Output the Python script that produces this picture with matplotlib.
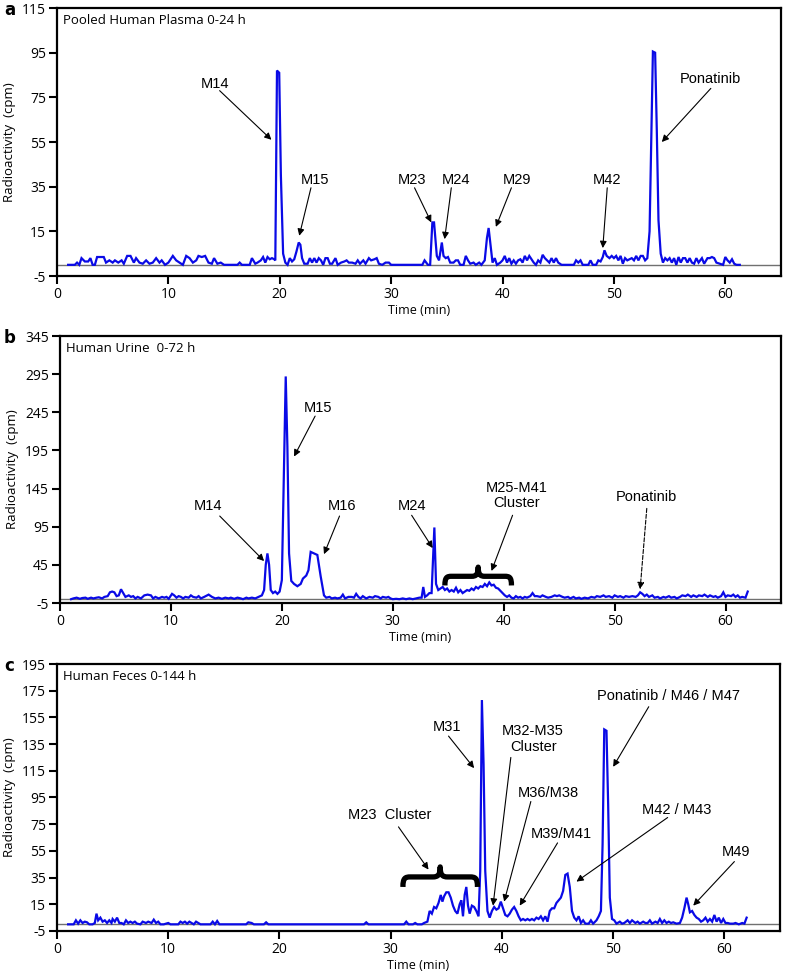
import matplotlib
matplotlib.use("Agg")
import matplotlib.pyplot as plt
from matplotlib.path import Path
from matplotlib.patches import PathPatch

# ---------------- data ----------------
time_a = [1.0, 1.6, 1.8, 2.0, 2.2, 2.5, 2.8, 3.0, 3.2, 3.4, 3.6, 3.9, 4.2, 4.4, 4.7, 5.0, 5.2, 5.5, 5.8,
          6.0, 6.3, 6.6, 6.9, 7.1, 7.4, 7.7, 8.0, 8.3, 8.6, 8.9, 9.2, 9.4, 9.7, 10.0, 10.4, 10.7, 11.0,
          11.3, 11.6, 11.9, 12.2, 12.5, 12.7, 13.0, 13.3, 13.6, 13.9, 14.1, 14.4, 14.7, 15.0, 16.2, 16.4,
          16.6, 17.3, 17.5, 17.8, 18.0, 18.3, 18.5, 18.7, 18.9, 19.1, 19.3, 19.5, 19.6, 19.75, 19.95,
          20.1, 20.3, 20.5, 20.7, 20.9, 21.1, 21.3, 21.5, 21.7, 21.85, 22.0, 22.2, 22.5, 22.7, 22.9, 23.1,
          23.3, 23.5, 23.7, 23.9, 24.1, 24.3, 24.5, 24.7, 25.0, 25.2, 25.5, 25.8, 26.0, 26.2, 26.5, 26.8,
          27.0, 27.2, 27.5, 27.7, 28.0, 28.2, 28.5, 28.7, 28.9, 29.2, 29.5, 29.8, 30.0, 32.8, 33.0, 33.3,
          33.5, 33.7, 33.85, 34.1, 34.3, 34.55, 34.7, 34.9, 35.1, 35.3, 35.6, 35.8, 36.0, 36.2, 36.5,
          36.7, 36.9, 37.1, 37.4, 37.6, 37.9, 38.1, 38.4, 38.6, 38.75, 38.9, 39.1, 39.3, 39.5, 39.8,
          40.0, 40.2, 40.4, 40.6, 40.8, 41.0, 41.2, 41.4, 41.6, 41.8, 42.0, 42.2, 42.4, 42.6, 42.8, 43.0,
          43.2, 43.4, 43.6, 43.8, 44.0, 44.2, 44.4, 44.6, 44.8, 45.0, 45.3, 46.4, 46.6, 46.8, 47.0, 47.2,
          47.7, 47.9, 48.1, 48.4, 48.6, 48.8, 49.0, 49.15, 49.35, 49.6, 49.8, 50.0, 50.2, 50.4, 50.6,
          50.8, 51.0, 51.2, 51.4, 51.6, 51.8, 52.0, 52.2, 52.4, 52.6, 52.8, 53.0, 53.2, 53.4, 53.5, 53.7,
          53.85, 54.0, 54.2, 54.4, 54.6, 54.8, 55.0, 55.2, 55.4, 55.6, 55.8, 56.0, 56.2, 56.4, 56.6, 56.8,
          57.0, 57.2, 57.4, 57.6, 57.9, 58.1, 58.4, 58.6, 58.8, 59.0, 59.2, 59.5, 59.8, 60.0, 60.2, 60.4,
          60.6, 60.8, 61.0, 61.3]
cpm_a = [0, 0, 1, 0, 3, 1.5, 1.5, 3, 0, 0, 3.5, 3.5, 3.5, 1, 2, 1, 2, 1, 2,
         0.5, 4, 4, 1, 3, 1, 0.5, 2, 0.5, 1, 3, 1, 2, 0, 1, 4, 2, 1,
         0, 4, 3, 1, 2, 4, 3.5, 4, 1, 0.5, 3, 0.5, 1, 0, 0, 1,
         0, 0, 3, 0.5, 1, 2, 3.5, 1, 3.5, 2.5, 3, 2.5, 2, 87, 86,
         40, 5, 1, 0, 3, 1.5, 2.5, 6, 10, 9, 3, 0.5, 0.5, 3, 1, 3,
         1, 3, 2, 0, 3, 3, 0.5, 0.5, 3, 0, 1, 1.5, 2, 1, 1, 0.5,
         2, 0.5, 2, 0.5, 3, 2, 2.5, 3, 0.5, 0, 1, 1, 0, 0, 2, 0,
         0, 19, 19, 4, 2, 10, 4, 3, 3.5, 1, 1, 2, 2, 0, 0,
         4, 2, 0.5, 1, 0, 1, 0, 2, 12, 16.5, 10, 1, 3, 0, 1,
         2, 4, 1, 3, 0.5, 2, 0.5, 2, 2.5, 1, 4, 2, 4, 2.5, 1, 0,
         2, 1, 4.5, 3, 2, 1, 3, 1, 3, 1, 0, 0, 2, 1, 2, 0,
         0, 2, 0, 0, 2, 1.5, 3.5, 6.5, 4, 3, 4, 3, 4, 2, 4,
         0.5, 3, 2, 2.5, 3, 2, 4, 2, 4, 4, 2, 3, 15, 70, 95.5, 95,
         60, 20, 5, 1, 3, 2, 3, 1, 3, 0, 3.5, 1, 3, 3, 1, 3,
         1, 0.5, 3, 1, 3, 0.5, 3, 3, 3.5, 3, 1, 0.5, 0, 3.5, 2, 1,
         2.5, 0.5, 0, 0]

time_b = [1.0, 1.2, 1.5, 1.8, 2.0, 2.3, 2.5, 2.8, 3.0, 3.3, 3.5, 3.8, 4.0, 4.3, 4.5, 4.7, 4.9, 5.1, 5.3,
          5.5, 5.7, 5.9, 6.2, 6.4, 6.6, 6.8, 7.0, 7.3, 7.6, 7.9, 8.2, 8.4, 8.6, 8.9, 9.2, 9.4, 9.6, 9.8,
          10.1, 10.3, 10.5, 10.7, 10.9, 11.1, 11.3, 11.6, 11.8, 12.0, 12.3, 12.5, 12.7, 13.0, 13.4, 13.7,
          14.0, 14.3, 14.6, 14.9, 15.2, 15.4, 15.7, 16.0, 16.3, 16.5, 16.8, 17.0, 17.3, 17.6, 17.9, 18.2,
          18.4, 18.55, 18.7, 18.85, 19.0, 19.2, 19.4, 19.6, 19.8, 20.0, 20.2, 20.35, 20.5, 20.65, 20.85,
          21.1, 21.4, 21.7, 21.9, 22.2, 22.4, 22.6, 22.9, 23.2, 23.5, 23.8, 24.0, 24.3, 24.5, 24.8, 25.0,
          25.3, 25.5, 25.7, 26.0, 26.3, 26.5, 26.7, 26.9, 27.1, 27.3, 27.6, 27.9, 28.2, 28.4, 28.7, 28.9,
          29.1, 29.4, 29.6, 29.8, 30.0, 30.3, 30.6, 30.9, 31.2, 31.5, 31.8, 32.1, 32.4, 32.6, 32.75, 32.9,
          33.1, 33.3, 33.5, 33.75, 33.9, 34.1, 34.3, 34.5, 34.7, 34.9, 35.1, 35.3, 35.5, 35.7, 35.9, 36.1,
          36.3, 36.5, 36.7, 36.9, 37.1, 37.3, 37.5, 37.7, 37.9, 38.1, 38.3, 38.5, 38.7, 38.9, 39.1, 39.3,
          39.5, 39.7, 39.9, 40.1, 40.3, 40.5, 40.7, 40.9, 41.1, 41.3, 41.5, 41.7, 41.9, 42.1, 42.4, 42.6,
          42.8, 43.0, 43.3, 43.5, 43.8, 44.0, 44.3, 44.6, 44.8, 45.0, 45.3, 45.5, 45.8, 46.0, 46.3, 46.5,
          46.8, 47.0, 47.3, 47.6, 47.9, 48.2, 48.4, 48.7, 49.0, 49.2, 49.5, 49.8, 50.0, 50.3, 50.5, 50.8,
          51.0, 51.3, 51.6, 51.9, 52.1, 52.3, 52.5, 52.7, 52.9, 53.1, 53.4, 53.6, 53.9, 54.1, 54.4, 54.6,
          54.9, 55.1, 55.4, 55.6, 55.9, 56.1, 56.4, 56.6, 56.9, 57.1, 57.4, 57.6, 57.9, 58.1, 58.4, 58.6,
          58.9, 59.1, 59.3, 59.6, 59.8, 60.0, 60.2, 60.5, 60.7, 60.9, 61.1, 61.3, 61.5, 61.8, 62.0]
cpm_b = [0, 1, 2, 0.5, 1.5, 2, 0.5, 2, 1, 2, 2.5, 1, 3, 4, 9, 10, 9, 4, 5,
         13, 8, 3, 5, 3, 4, 1, 3, 1, 5, 6, 5, 1, 3, 1, 3, 2, 3, 0.5,
         7, 5, 2, 4, 3, 1, 3, 2, 5, 3, 2, 4, 1, 3, 6, 3,
         1, 2, 0.5, 2, 1, 2, 0.5, 2, 1, 0, 2, 1, 2, 1, 3, 5,
         12, 45, 60, 45, 12, 8, 10, 7, 10, 25, 180, 292, 200, 60, 24,
         20, 17, 20, 27, 31, 38, 62, 60, 58, 30, 5, 2, 3, 1, 2, 1,
         2, 6, 1, 3, 3, 2, 7, 3, 1, 4, 1, 3, 2, 4, 3, 1,
         3, 2, 3, 1, 0, 0.5, 0, 1, 0, 1, 0, 1, 2, 2, 16, 3,
         5, 8, 8, 94, 20, 12, 14, 16, 12, 14, 10, 12, 10, 15, 9, 12,
         8, 10, 12, 11, 14, 12, 16, 14, 17, 16, 20, 17, 22, 18, 19, 15,
         14, 11, 8, 5, 3, 5, 2, 1, 4, 2, 3, 1, 3, 2, 4, 8,
         4, 4, 3, 5, 3, 2, 3, 5, 4, 5, 3, 2, 3, 1, 3, 1,
         2, 0.5, 2, 1, 3, 2, 4, 3, 5, 3, 4, 2, 5, 3, 4, 2,
         4, 3, 4, 3, 5, 9, 7, 4, 6, 3, 5, 2, 3, 1, 3, 2,
         4, 2, 3, 1, 3, 5, 4, 6, 3, 5, 3, 5, 4, 6, 3, 5,
         3, 4, 2, 4, 9, 3, 5, 4, 6, 3, 5, 2, 3, 2, 10]

time_c = [1.0, 1.5, 1.7, 1.9, 2.1, 2.3, 2.5, 2.7, 2.9, 3.2, 3.4, 3.55, 3.7, 3.9, 4.1, 4.3, 4.5, 4.7, 4.9,
          5.0, 5.2, 5.4, 5.6, 5.8, 6.0, 6.2, 6.4, 6.6, 6.8, 7.0, 7.2, 7.5, 7.7, 8.0, 8.2, 8.5, 8.7, 8.9,
          9.1, 9.3, 9.6, 10.0, 10.2, 10.9, 11.1, 11.3, 11.5, 11.7, 11.9, 12.1, 12.3, 12.5, 12.7, 12.9,
          13.8, 14.0, 14.2, 14.4, 14.6, 17.0, 17.2, 17.5, 17.7, 18.6, 18.8, 19.0, 27.6, 27.8, 28.0, 31.2,
          31.4, 31.6, 32.0, 32.2, 32.4, 32.8, 33.0, 33.3, 33.5, 33.7, 33.9, 34.1, 34.3, 34.5, 34.65, 34.8,
          35.0, 35.2, 35.4, 35.6, 35.8, 36.0, 36.2, 36.35, 36.5, 36.65, 36.8, 36.95, 37.1, 37.3, 37.5,
          37.7, 37.9, 38.05, 38.2, 38.35, 38.5, 38.7, 38.9, 39.1, 39.3, 39.5, 39.7, 39.9, 40.1, 40.3,
          40.5, 40.7, 40.9, 41.1, 41.3, 41.5, 41.7, 41.9, 42.1, 42.3, 42.5, 42.7, 42.9, 43.1, 43.3, 43.5,
          43.7, 43.9, 44.1, 44.3, 44.5, 44.7, 44.9, 45.1, 45.3, 45.5, 45.7, 45.9, 46.1, 46.3, 46.5, 46.7,
          46.9, 47.1, 47.3, 47.5, 47.8, 48.0, 48.2, 48.5, 48.7, 48.9, 49.05, 49.2, 49.4, 49.55, 49.7,
          49.9, 50.1, 50.3, 50.6, 50.8, 51.0, 51.3, 51.5, 51.7, 52.0, 52.2, 52.4, 52.7, 52.9, 53.1, 53.3,
          53.5, 53.8, 54.0, 54.2, 54.4, 54.6, 54.8, 55.0, 55.2, 55.4, 55.7, 56.0, 56.2, 56.4, 56.6,
          56.75, 56.9, 57.1, 57.3, 57.5, 57.7, 57.9, 58.1, 58.3, 58.5, 58.7, 58.9, 59.1, 59.3, 59.5,
          59.7, 59.9, 60.1, 60.3, 60.5, 60.8, 61.0, 61.3, 61.6, 61.8, 62.0]
cpm_c = [0, 0, 3, 0.5, 3, 1, 2, 1.5, 0, 0, 1, 8, 3, 5, 2, 3, 1, 3, 1,
         4, 2, 5, 1, 1, 0, 3, 1, 2, 1, 2, 0.5, 0, 2, 1, 2, 1, 3.5, 1,
         2, 0, 0, 1, 0, 0, 2, 1, 2, 0.5, 2, 1, 0, 2, 1, 0,
         0, 2, 0, 2.5, 0, 0, 1.5, 1, 0, 0, 1.5, 0, 0, 1.5, 0, 0,
         2, 0, 0, 1, 0, 0, 1, 2, 10, 8, 13, 12, 16, 22, 17, 21,
         24, 24, 20, 14, 10, 8, 15, 18, 6, 22, 28, 14, 8, 14, 13,
         10, 6, 40, 168, 120, 40, 10, 5, 10, 13, 11, 12, 17, 12, 7,
         6, 8, 11, 13, 10, 6, 3, 4, 3, 4, 3, 4, 3, 5, 4, 6,
         3, 6, 2, 10, 12, 12, 16, 18, 20, 25, 37, 38, 28, 10, 5, 3,
         6, 1, 3, 0.5, 0.5, 3, 0.5, 3, 6, 10, 60, 146, 145, 90, 20,
         4, 3, 0.5, 2, 0.5, 1, 3, 1, 3, 1, 2, 0.5, 2, 1, 1, 3,
         0.5, 2, 1, 4, 1, 3, 1, 2, 1, 1.5, 0.5, 1, 5, 12, 20,
         15, 9, 10, 7, 5, 4, 2, 3, 5, 2, 4, 2, 7, 2, 5,
         1, 4, 1, 1, 0.5, 0.5, 1, 0, 1, 0.5, 5]

panel_letters = ["a", "b", "c"]
panel_titles = ["Pooled Human Plasma 0-24 h", "Human Urine  0-72 h", "Human Feces 0-144 h"]
yticks_a = [-5, 15, 35, 55, 75, 95, 115]
yticks_b = [-5, 45, 95, 145, 195, 245, 295, 345]
yticks_c = [-5, 15, 35, 55, 75, 95, 115, 135, 155, 175, 195]
xticks = [0, 10, 20, 30, 40, 50, 60]

# annotations: (label, text_x, text_y, tail_x, tail_y, head_x, head_y)
ann_a = [("M14", 14.2, 81, 14.6, 78, 19.25, 56),
         ("M15", 23.2, 38, 22.8, 34.5, 21.75, 13),
         ("M23", 31.9, 38, 32.1, 34.5, 33.6, 19),
         ("M24", 35.8, 38, 35.4, 34.5, 34.8, 11.5),
         ("M29", 41.3, 38, 40.8, 34.5, 39.4, 17),
         ("M42", 49.4, 38, 49.4, 34.5, 49.0, 7.5),
         ("Ponatinib", 58.7, 83, 58.7, 79, 54.3, 55)]
ann_b = [("M14", 13.3, 122, 14.4, 109, 18.4, 50),
         ("M15", 23.3, 251, 23.0, 240, 21.1, 187),
         ("M16", 25.4, 122, 25.2, 109, 23.8, 59),
         ("M24", 31.7, 122, 31.7, 110, 33.6, 67),
         ("M25-M41\nCluster", 41.2, 136, 40.8, 110, 38.9, 37)]
ann_b_dashed = [("Ponatinib", 52.9, 134, 52.9, 119, 52.3, 13)]
ann_c = [("M23  Cluster", 29.9, 82, 30.7, 73, 33.4, 41),
         ("M31", 35.1, 148, 35.2, 141, 37.5, 117),
         ("M32-M35\nCluster", 42.8, 139, 40.8, 125, 39.2, 14),
         ("M36/M38", 44.2, 98, 42.6, 92, 40.2, 17),
         ("M39/M41", 45.3, 68, 45.0, 61, 41.6, 14),
         ("M42 / M43", 55.7, 86, 54.9, 80, 46.7, 32),
         ("Ponatinib / M46 / M47", 55.0, 171, 53.2, 163, 50.0, 118),
         ("M49", 61.0, 54, 60.9, 47, 57.2, 14)]
# braces: (x_start, x_end, y_bottom, y_tip)
brace_b = (34.7, 40.7, 18, 42)
brace_c = (31.1, 37.8, 28, 43)

# ---------------- drawing ----------------
TICKFONT = "Open Sans"
ANNFONT = "Liberation Sans"
LINE_BLUE = "#0a0ae6"

fig = plt.figure(figsize=(7.86, 9.8), dpi=100)
W, H = 786, 980
boxes = [(57, 8, 781, 276), (60, 336, 781, 603), (57, 664, 780, 931)]
axes = []
for (l, t, r, b) in boxes:
    axes.append(fig.add_axes([l / W, 1 - b / H, (r - l) / W, (b - t) / H]))


def draw_brace(ax, x0, x1, yb, yt):
    w = x1 - x0
    h = yt - yb
    pts_u = [(0, 0), (0, 0.45), (0.03, 0.5), (0.1, 0.5), (0.4, 0.5), (0.47, 0.5), (0.5, 0.6), (0.5, 1.0),
             (0.5, 0.6), (0.53, 0.5), (0.6, 0.5), (0.9, 0.5), (0.97, 0.5), (1.0, 0.45), (1.0, 0)]
    codes = [Path.MOVETO, Path.CURVE4, Path.CURVE4, Path.CURVE4, Path.LINETO, Path.CURVE4, Path.CURVE4,
             Path.CURVE4, Path.CURVE4, Path.CURVE4, Path.CURVE4, Path.LINETO, Path.CURVE4, Path.CURVE4,
             Path.CURVE4]
    verts = [(x0 + u * w, yb + v * h) for (u, v) in pts_u]
    patch = PathPatch(Path(verts, codes), facecolor="none", edgecolor="black", lw=3.8,
                      capstyle="butt", joinstyle="round", zorder=5)
    ax.add_patch(patch)


def draw_ann(ax, items, dashed=False):
    for (lab, tx, ty, x0, y0, x1, y1) in items:
        ax.text(tx, ty, lab, ha="center", va="center", fontsize=10.5, family=ANNFONT,
                linespacing=1.15, zorder=6)
        ax.annotate("", xy=(x1, y1), xytext=(x0, y0),
                    arrowprops=dict(arrowstyle="-|>", color="black", lw=0.8,
                                    linestyle="--" if dashed else "-",
                                    mutation_scale=10, shrinkA=0, shrinkB=0), zorder=6)


series = [(time_a, cpm_a, yticks_a), (time_b, cpm_b, yticks_b), (time_c, cpm_c, yticks_c)]
for i, ax in enumerate(axes):
    t, v, yt = series[i]
    ax.axhline(0, color="#707070", lw=1.0, zorder=1)
    ax.plot(t, v, color=LINE_BLUE, lw=1.6, zorder=3, solid_joinstyle="miter")
    ax.set_xlim(0, 65)
    ax.set_ylim(yt[0], yt[-1])
    ax.set_yticks(yt)
    ax.set_yticklabels([str(y) for y in yt], family=TICKFONT, fontsize=10)
    ax.set_xticks(xticks)
    ax.set_xticklabels([str(x) for x in xticks], family=TICKFONT, fontsize=10)
    ax.tick_params(direction="out", length=6, width=1.5, pad=2, top=False, right=False)
    for s in ax.spines.values():
        s.set_linewidth(1.6)
    ax.set_xlabel("Time (min)", family=TICKFONT, fontsize=9, labelpad=1)
    ax.set_ylabel("Radioactivity  (cpm)", family=TICKFONT, fontsize=9.5, labelpad=4)
    ax.text(0.008, 0.955, panel_titles[i], transform=ax.transAxes, ha="left", va="center",
            family=TICKFONT, fontsize=9.5)
    fig.text(4 / W, 1 - (boxes[i][1] + 2) / H, panel_letters[i], ha="left", va="center",
             family="DejaVu Sans", fontsize=12, fontweight="bold")

draw_ann(axes[0], ann_a)
draw_ann(axes[1], ann_b)
draw_ann(axes[1], ann_b_dashed, dashed=True)
draw_ann(axes[2], ann_c)
draw_brace(axes[1], *brace_b)
draw_brace(axes[2], *brace_c)

fig.savefig("out.png", dpi=100)
